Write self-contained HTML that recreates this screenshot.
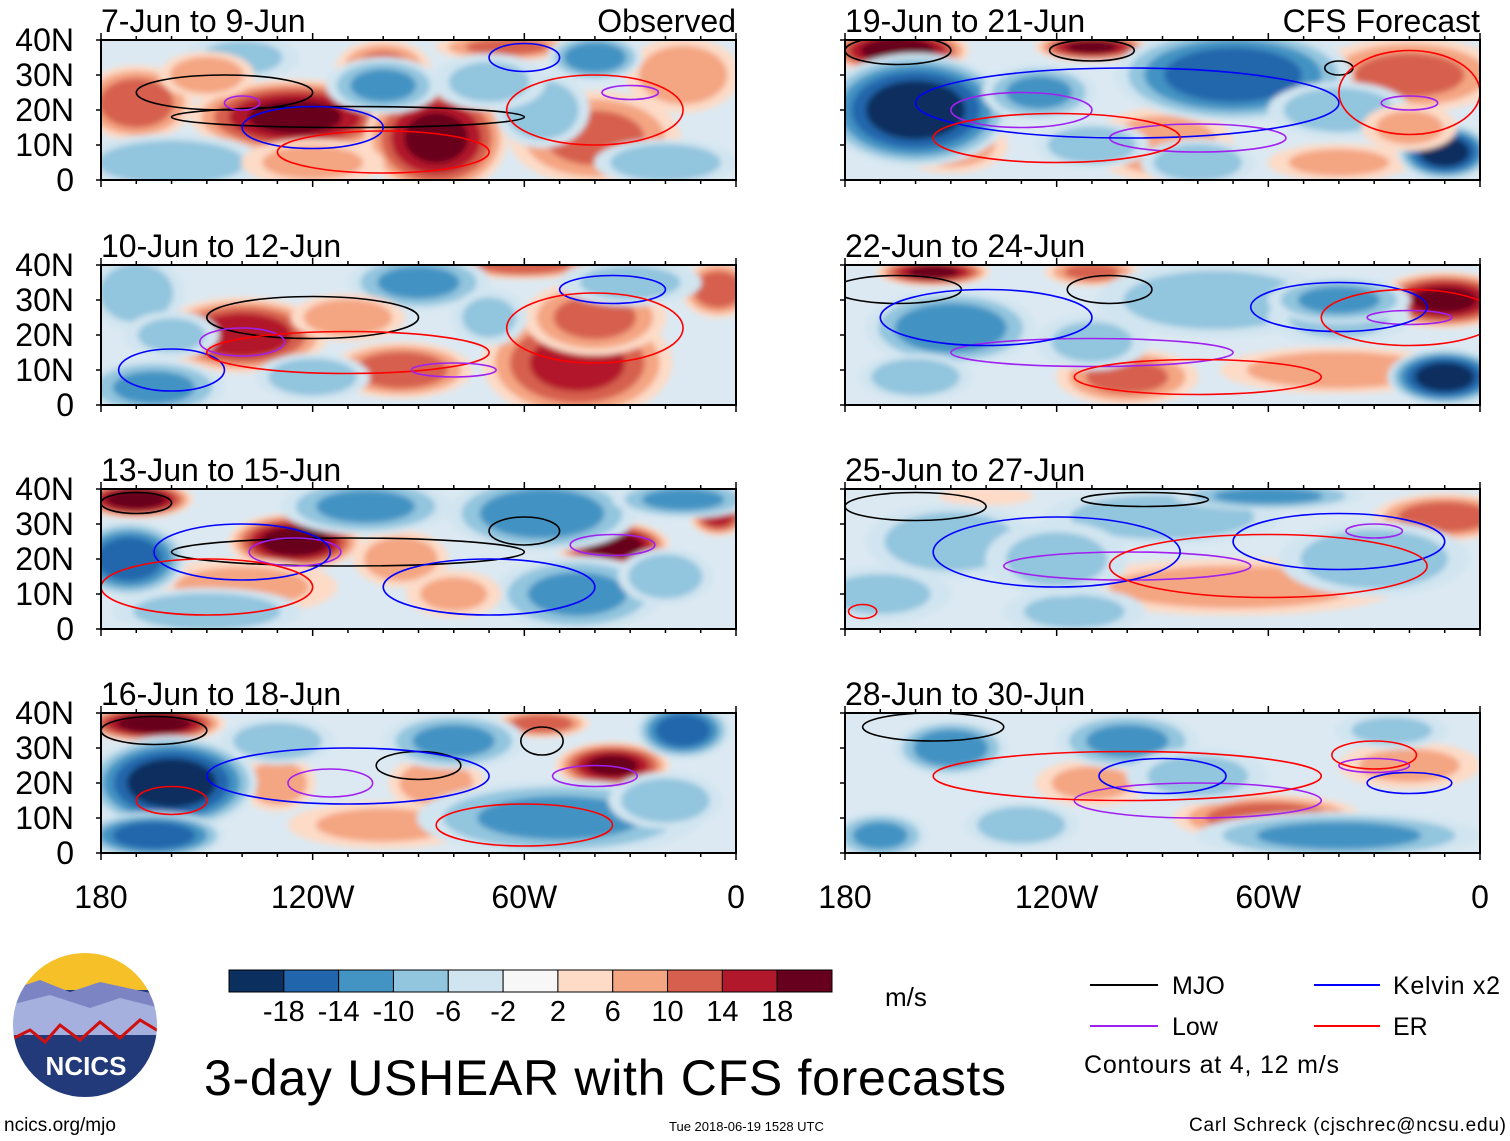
<!DOCTYPE html>
<html><head><meta charset="utf-8">
<style>
body{margin:0;background:#fff;}
svg{display:block;font-family:"Liberation Sans",sans-serif;}
</style></head>
<body>
<svg id="fig" width="1510" height="1141" viewBox="0 0 1510 1141" xmlns="http://www.w3.org/2000/svg">
<defs>
<filter id="blur" x="-20%" y="-20%" width="140%" height="140%"><feGaussianBlur stdDeviation="3"/></filter>
<clipPath id="logoclip"><circle cx="85" cy="1025" r="73"/></clipPath>
</defs>
<g id="panels"></g>

<g id="cbar"></g>
<text x="885" y="1006" font-size="26">m/s</text>

<g font-size="25">
<line x1="1090" y1="985" x2="1158" y2="985" stroke="#000" stroke-width="2"/>
<text x="1172" y="994">MJO</text>
<line x1="1090" y1="1026" x2="1158" y2="1026" stroke="#a020f0" stroke-width="2"/>
<text x="1172" y="1035">Low</text>
<line x1="1314" y1="985" x2="1380" y2="985" stroke="#0000ff" stroke-width="2"/>
<text x="1393" y="994" textLength="107">Kelvin x2</text>
<line x1="1314" y1="1026" x2="1380" y2="1026" stroke="#ff0000" stroke-width="2"/>
<text x="1393" y="1035">ER</text>
<text x="1084" y="1073" textLength="255">Contours at 4, 12 m/s</text>
</g>

<text x="204" y="1095" font-size="50" textLength="802">3-day USHEAR with CFS forecasts</text>
<text x="4" y="1131" font-size="19">ncics.org/mjo</text>
<text x="669" y="1131" font-size="13">Tue 2018-06-19 1528 UTC</text>
<text x="1189" y="1131" font-size="19" textLength="317">Carl Schreck (cjschrec@ncsu.edu)</text>

<g>
<g clip-path="url(#logoclip)">
<rect x="10" y="950" width="150" height="150" fill="#233a7a"/>
<rect x="10" y="950" width="150" height="40" fill="#f6c028"/>
<path d="M10 990 L40 980 L70 992 L100 982 L160 995 L160 1020 L10 1020Z" fill="#7d84c4"/>
<path d="M10 1005 L50 995 L90 1008 L120 998 L160 1008 L160 1035 L10 1035Z" fill="#a5b0de"/>
<path d="M10 1040 L30 1030 L45 1042 L60 1025 L80 1040 L100 1022 L120 1038 L140 1020 L160 1032" stroke="#d01010" stroke-width="3" fill="none"/>
</g>
<circle cx="85" cy="1025" r="73" fill="none" stroke="#fff" stroke-width="2"/>
<text x="86" y="1075" font-size="26" font-weight="bold" fill="#fff" text-anchor="middle">NCICS</text>
</g>
</svg>
<script>
const cbarColors = ["#0b2f5e","#2166ac","#4393c3","#92c5de","#d1e5f0","#f7f7f7","#fddbc7","#f4a582","#d6604d","#b2182b","#67001f"];
const cbarTicks = [-18,-14,-10,-6,-2,2,6,10,14,18];
const panelTitles = ["7-Jun to 9-Jun","10-Jun to 12-Jun","13-Jun to 15-Jun","16-Jun to 18-Jun","19-Jun to 21-Jun","22-Jun to 24-Jun","25-Jun to 27-Jun","28-Jun to 30-Jun"];
const latTicks = [40,30,20,10,0];
const latLabels = ["40N","30N","20N","10N","0"];
const lonTicks = [180,120,60,0];
const lonLabels = ["180","120W","60W","0"];
// anomaly blobs: [lonW, lat, rxDeg, ryDeg, value m/s]
const blobs1 = [[170,22,12,8,10],[125,18,22,8,16],[85,12,15,12,16],[40,12,18,10,8],[100,32,10,6,8],[15,30,12,8,6],[65,38,15,3,8],[160,5,20,6,-6],[100,27,12,6,-8],[55,20,10,8,-6],[40,35,10,5,-10],[140,35,12,5,-4],[20,5,15,5,-6],[150,30,10,5,6],[120,5,15,5,4],[70,28,12,6,-4]];
const blobs2 = [[140,20,18,8,14],[95,10,15,6,10],[45,12,20,12,12],[40,25,15,8,8],[60,40,15,3,10],[5,33,8,6,10],[165,5,15,6,-8],[170,32,10,8,-6],[120,8,12,5,-6],[90,35,15,6,-8],[30,35,15,5,-4],[70,25,8,6,-4],[110,25,12,5,6],[160,20,10,5,-4]];
const blobs3 = [[170,37,12,4,18],[125,25,14,6,18],[35,24,12,5,18],[5,32,6,4,12],[95,20,10,6,6],[140,12,20,6,4],[172,20,12,8,-14],[105,35,18,6,-8],[55,33,20,8,-10],[45,10,18,8,-8],[150,5,20,5,-6],[15,37,15,4,-8],[80,10,10,5,4],[20,15,10,6,-6]];
const blobs4 = [[165,37,15,4,18],[35,25,12,5,16],[130,20,8,6,6],[85,20,10,6,6],[55,37,10,3,10],[100,8,20,5,4],[160,20,18,10,-18],[165,5,15,5,-14],[15,35,10,6,-14],[80,32,15,6,-8],[50,10,30,8,-8],[130,32,12,5,-6],[20,15,12,6,-6]];
const blobs5 = [[165,37,15,5,18],[110,38,12,3,16],[20,30,20,8,8],[90,10,15,8,6],[150,10,12,6,6],[40,5,15,4,4],[160,20,20,12,-18],[70,30,25,10,-14],[10,8,10,6,-18],[125,25,12,6,-8],[40,20,15,6,-6],[80,5,12,5,-6],[110,10,12,5,-6],[20,15,10,5,4]];
const blobs6 = [[155,38,12,3,16],[10,30,15,6,16],[100,8,15,6,8],[40,10,25,5,6],[110,38,10,3,8],[10,8,12,6,-18],[150,22,18,8,-10],[75,30,25,8,-6],[40,25,15,6,-4],[110,18,12,6,-4],[160,8,12,5,-6],[40,30,15,5,-8]];
const blobs7 = [[10,32,15,5,10],[70,12,35,6,5],[140,38,10,2,3],[150,25,18,8,-6],[90,32,25,6,-6],[30,20,20,8,-6],[60,38,20,3,-8],[170,10,15,6,-4],[115,5,15,5,-4],[120,20,15,8,-4]];
const blobs8 = [[60,10,20,5,10],[110,20,12,5,4],[20,25,15,5,4],[150,30,12,6,-10],[100,32,15,6,-8],[40,5,30,5,-8],[170,5,10,5,-8],[130,8,12,5,-6],[25,35,12,4,-4],[80,22,15,6,-4]];
// contours: [lonW, lat, rxDeg, ryDeg, type]
const cont1 = [[145,25,25,5,"mjo"],[110,18,50,3,"mjo"],[140,22,5,2,"low"],[60,35,10,4,"kelvin"],[120,15,20,6,"kelvin"],[100,8,30,6,"er"],[40,20,25,10,"er"],[30,25,8,2,"low"]];
const cont2 = [[120,25,30,6,"mjo"],[140,18,12,4,"low"],[35,33,15,4,"kelvin"],[160,10,15,6,"kelvin"],[110,15,40,6,"er"],[40,22,25,10,"er"],[80,10,12,2,"low"]];
const cont3 = [[170,36,10,3,"mjo"],[110,22,50,4,"mjo"],[60,28,10,4,"mjo"],[125,22,13,4,"low"],[35,24,12,3,"low"],[140,22,25,8,"kelvin"],[70,12,30,8,"kelvin"],[150,12,30,8,"er"]];
const cont4 = [[165,35,15,4,"mjo"],[90,25,12,4,"mjo"],[55,32,6,4,"mjo"],[115,20,12,4,"low"],[40,22,12,3,"low"],[110,22,40,8,"kelvin"],[60,8,25,6,"er"],[160,15,10,4,"er"]];
const cont5 = [[165,37,15,4,"mjo"],[110,37,12,3,"mjo"],[40,32,4,2,"mjo"],[130,20,20,5,"low"],[80,12,25,4,"low"],[20,22,8,2,"low"],[100,22,60,10,"kelvin"],[120,12,35,7,"er"],[20,25,20,12,"er"]];
const cont6 = [[165,33,18,4,"mjo"],[105,33,12,4,"mjo"],[110,15,40,4,"low"],[20,25,12,2,"low"],[140,25,30,8,"kelvin"],[40,28,25,7,"kelvin"],[80,8,35,5,"er"],[20,25,25,8,"er"]];
const cont7 = [[160,35,20,4,"mjo"],[95,37,18,2,"mjo"],[100,18,35,4,"low"],[30,28,8,2,"low"],[120,22,35,10,"kelvin"],[40,25,30,8,"kelvin"],[60,18,45,9,"er"],[175,5,4,2,"er"]];
const cont8 = [[155,36,20,4,"mjo"],[80,15,35,5,"low"],[30,25,10,2,"low"],[90,22,18,5,"kelvin"],[20,20,12,3,"kelvin"],[100,22,55,7,"er"],[30,28,12,4,"er"]];

const allBlobs=[blobs1,blobs2,blobs3,blobs4,blobs5,blobs6,blobs7,blobs8];
const allCont=[cont1,cont2,cont3,cont4,cont5,cont6,cont7,cont8];
const NS="http://www.w3.org/2000/svg";
function mk(tag,attrs,parent){const e=document.createElementNS(NS,tag);for(const k in attrs)e.setAttribute(k,attrs[k]);if(parent)parent.appendChild(e);return e;}
const colX=[101,845], rowY=[40,265,489,713], PW=635, PH=140;
const contColor={mjo:"#000",low:"#a020f0",kelvin:"#0000ff",er:"#ff0000"};
function colorFor(v){let i=0;while(i<cbarTicks.length&&v>cbarTicks[i])i++;return cbarColors[i];}
const panels=document.getElementById("panels");
for(let p=0;p<8;p++){
  const c=p<4?0:1, r=p%4;
  const x0=colX[c], y0=rowY[r];
  const xs=lon=>x0+(180-lon)/180*PW;
  const ys=lat=>y0+(40-lat)/40*PH;
  const g=mk("g",{},panels);
  
  
  mk("clipPath",{id:"clip"+p},g).appendChild(mk("rect",{x:x0,y:y0,width:PW,height:PH}));
  const inner=mk("g",{"clip-path":"url(#clip"+p+")"},g);
  mk("rect",{x:x0,y:y0,width:PW,height:PH,fill:"#dce9f2"},inner);
  const fg=mk("g",{filter:"url(#blur)"},inner);
  allBlobs[p].forEach(b=>{
    const [lon,lat,rx,ry,v]=b, a=Math.abs(v), s=Math.sign(v);
    for(let lev=2;lev<=a+2.1;lev+=4){
      const f=1.35*Math.sqrt(1-(lev-2)/(a+4));
      const e=mk("ellipse",{cx:xs(lon),cy:ys(lat),rx:rx*PW/180*f,ry:ry*PH/40*f,fill:colorFor(s*(lev+0.5))},fg);
      
      
    }
  });
  allCont[p].forEach(ct=>{
    const [lon,lat,rx,ry,t]=ct;
    const e=mk("ellipse",{cx:xs(lon),cy:ys(lat),rx:rx*PW/180,ry:ry*PH/40,fill:"none",stroke:contColor[t],"stroke-width":1.6},inner);
    
    
  });
  mk("rect",{x:x0,y:y0,width:PW,height:PH,fill:"none",stroke:"#000","stroke-width":2},g);
  for(let lon=180;lon>=0;lon-=10){
    const L=(lon%60===0)?7:4;
    mk("line",{x1:xs(lon),x2:xs(lon),y1:y0,y2:y0-L,stroke:"#000","stroke-width":1.5},g);
    mk("line",{x1:xs(lon),x2:xs(lon),y1:y0+PH,y2:y0+PH+L,stroke:"#000","stroke-width":1.5},g);
  }
  latTicks.forEach((lt,i)=>{
    mk("line",{x1:x0,x2:x0-5,y1:ys(lt),y2:ys(lt),stroke:"#000","stroke-width":1.5},g);
    if(c===0){
      const t=mk("text",{x:x0-27,y:ys(lt)+11,"font-size":32,"text-anchor":"end"},g);
      t.textContent=latLabels[i];
      
      
    }
  });
  const tt=mk("text",{x:x0,y:y0-8,"font-size":32},g);
  tt.textContent=panelTitles[p];
  
  
  if(r===0){
    const rt=mk("text",{x:x0+PW,y:y0-8,"font-size":32,"text-anchor":"end"},g);
    rt.textContent=c===0?"Observed":"CFS Forecast";
    
    
  }
  if(r===3){
    lonTicks.forEach((ln,i)=>{
      const t=mk("text",{x:xs(ln),y:y0+PH+55,"font-size":32,"text-anchor":"middle"},g);
      t.textContent=lonLabels[i];
      
      
    });
  }
}
const cb=document.getElementById("cbar");
const cbx0=229, cbw=(832-229)/cbarColors.length;
cbarColors.forEach((col,i)=>{
  const r=mk("rect",{x:cbx0+i*cbw,y:970,width:cbw,height:22,fill:col,stroke:"#000","stroke-width":1},cb);
  
  
});
cbarTicks.forEach((v,i)=>{
  const t=mk("text",{x:cbx0+(i+1)*cbw,y:1021,"font-size":29,"text-anchor":"middle"},cb);
  t.textContent=v;
  
  
});
</script>
</body></html>
